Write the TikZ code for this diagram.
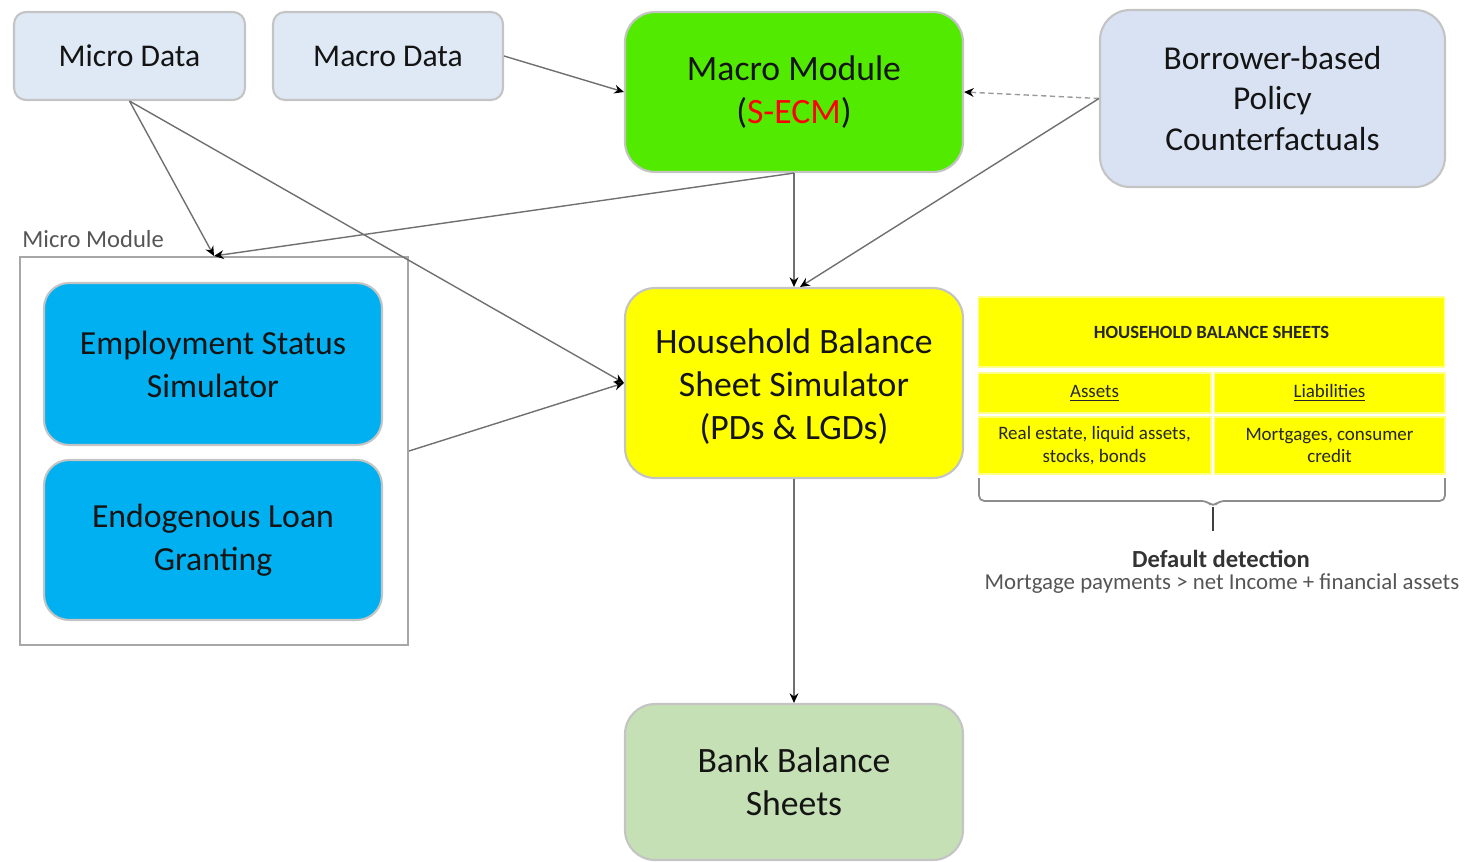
\documentclass[tikz,border=0pt]{standalone}
\usepackage{fontspec}
\setmainfont{Carlito}
\usetikzlibrary{arrows.meta}
\definecolor{databg}{HTML}{DEE9F5}
\definecolor{policybg}{HTML}{D9E2F3}
\definecolor{macrogreen}{HTML}{52EB00}
\definecolor{simblue}{HTML}{00B0F0}
\definecolor{hhyellow}{HTML}{FFFF00}
\definecolor{bankgreen}{HTML}{C5E0B4}
\definecolor{edgegray}{HTML}{C4C4C4}
\definecolor{linkgray}{HTML}{707070}
\definecolor{labelgray}{HTML}{555555}
\tikzset{
  box/.style={draw=edgegray, line width=1.2pt, align=center, inner sep=0pt, text=black!92},
  datanode/.style={box, fill=databg, rounded corners=0.24cm, minimum height=1.76cm,
    font=\fontsize{18}{21.6}\selectfont},
  bignode/.style={box, rounded corners=0.6cm, font=\fontsize{20.3}{24.5}\selectfont},
  simnode/.style={box, fill=simblue, rounded corners=0.5cm, minimum width=6.76cm,
    font=\fontsize{19.2}{24.5}\selectfont},
  cell/.style={fill=hhyellow, draw=hhyellow!45, line width=0.6pt, inner sep=0pt,
    align=center, text=black!85, font=\fontsize{10.8}{13}\selectfont},
  link/.style={draw=linkgray, line width=0.8pt,
    -{Stealth[length=5.5pt,width=5pt,color=black]}},
}
\begin{document}
\begin{tikzpicture}[x=0.02cm, y=-0.02cm]
\useasboundingbox (0,0) rectangle (1465,862);

% data sources
\node[datanode, minimum width=4.62cm] (mdata) at (129.5,56) {Micro Data};
\node[datanode, minimum width=4.60cm] (macdata) at (388,56) {Macro Data};

% macro module and policy scenarios
\node[bignode, fill=macrogreen, minimum width=6.76cm, minimum height=3.2cm] (macmod) at (794,92)
  {Macro Module\\(\textcolor{red}{S-ECM})};
\node[bignode, fill=policybg, minimum width=6.9cm, minimum height=3.54cm,
  font=\fontsize{19}{23.3}\selectfont] (policy) at (1272.5,98.5)
  {Borrower-based\\Policy\\Counterfactuals};

% micro module
\node[draw=edgegray!85!black, line width=1.2pt, minimum width=7.76cm, minimum height=7.76cm,
  inner sep=0pt] (micmod) at (214,451) {};
\node[anchor=base west, inner sep=0pt, text=labelgray, font=\fontsize{14}{16}\selectfont]
  (micmodlabel) at (22,247) {Micro Module};
\node[simnode, minimum height=3.24cm] (ess) at (213,364) {Employment Status\\Simulator};
\node[simnode, minimum height=3.2cm] (elg) at (213,540) {Endogenous Loan\\Granting};

% household and bank balance sheets
\node[bignode, fill=hhyellow, minimum width=6.76cm, minimum height=3.8cm] (hbs) at (794,383) {};
\node[align=center, inner sep=0pt, text=black!92, font=\fontsize{20.3}{24.5}\selectfont]
  (hbstext) at (794,387) {Household Balance\\Sheet Simulator\\(PDs \& LGDs)};
\node[bignode, fill=bankgreen, minimum width=6.76cm, minimum height=3.12cm] (bank) at (794,782)
  {Bank Balance\\Sheets};

% household balance sheet table
\node[cell, minimum width=9.34cm, minimum height=1.4cm, font=\bfseries\fontsize{10.6}{12}\selectfont]
  (thead) at (1211.5,332) {HOUSEHOLD BALANCE SHEETS};
\node[cell, minimum width=4.66cm, minimum height=0.8cm] (tassets) at (1094.5,393) {\underline{Assets}};
\node[cell, minimum width=4.62cm, minimum height=0.8cm] (tliab) at (1329.5,393) {\underline{Liabilities}};
\node[cell, minimum width=4.66cm, minimum height=1.14cm] (tassetsitems) at (1094.5,445.5)
  {Real estate, liquid assets,\\stocks, bonds};
\node[cell, minimum width=4.62cm, minimum height=1.14cm] (tliabitems) at (1329.5,445.5)
  {Mortgages, consumer\\credit};

% brace under the table
\coordinate (bracetip) at (1213,507);
\draw[draw=linkgray!80, line width=1pt, rounded corners=3pt]
  (979,478) -- (979,501) -- (1207,501) -- (bracetip)
  -- (1219,501) -- (1445,501) -- (1445,478);
\draw[draw=black!75, line width=1pt] (bracetip) -- (1213,531) coordinate (bracetail);

\node[inner sep=0pt, font=\bfseries\fontsize{14}{16}\selectfont, text=black!80] (deftitle) at (1221,559) {Default detection};
\node[inner sep=0pt, font=\fontsize{13}{15}\selectfont, text=labelgray] (defrule) at (1222,584)
  {Mortgage payments > net Income + financial assets};

% connectors
\draw[link] (mdata.south) -- (micmod.north);
\draw[link] (mdata.south) -- (hbs.west);
\draw[link] (macdata.east) -- (macmod.west);
\draw[link, draw=linkgray!70, dash pattern=on 3pt off 2pt] (policy.west) -- (macmod.east);
\draw[link] (policy.west) -- ([xshift=0.12cm]hbs.north);
\draw[link] (macmod.south) -- (hbs.north);
\draw[link] (macmod.south) -- (micmod.north);
\draw[link] (micmod.east) -- (hbs.west);
\draw[link] (hbs.south) -- (bank.north);
\end{tikzpicture}
\end{document}
